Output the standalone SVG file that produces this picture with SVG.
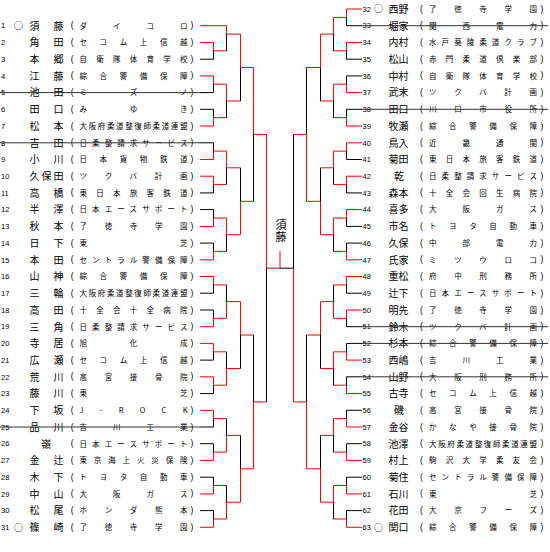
<svg xmlns="http://www.w3.org/2000/svg" width="550" height="552" viewBox="0 0 550 552">
<style>
text{font-family:"Noto Sans CJK JP","Noto Sans CJK SC",sans-serif;fill:#000}
.n{font-family:"Liberation Sans",sans-serif;font-size:7.5px}
.nm{font-size:10px}
.af{font-size:7.5px}
.pa{font-family:"Liberation Sans",sans-serif;font-size:8.5px}
.o{font-size:9px}
.st{stroke:#333;stroke-width:1}
.r{stroke:#f00;fill:none;stroke-width:1}
.b{stroke:#000;fill:none;stroke-width:1}
</style>
<rect width="550" height="552" fill="#fff"/>
<g id="connectors">
<path class="r" d="M200 25.7H226.5M200 42.4H213.5M200 75.9H213.5M200 126H213.5M200 159.5H213.5M200 176.2H213.5M200 226.4H213.5M200 259.8H213.5M200 276.5H213.5M200 326.7H213.5M200 343.4H213.5M200 376.8H213.5M200 410.3H213.5M200 460.4H213.5M200 493.9H213.5M200 527.3H213.5
M213.5 42.4V50.8M213.5 75.9V84.2M213.5 117.7V126M213.5 151.1V159.5M213.5 176.2V184.6M213.5 218V226.4M213.5 251.4V259.8M213.5 276.5V284.9M213.5 318.3V326.7M213.5 343.4V351.8M213.5 376.8V385.2M213.5 410.3V418.6M213.5 452.1V460.4M213.5 485.5V493.9M213.5 519V527.3
M213.5 50.8H226.5M213.5 84.2H226.5M213.5 117.7H226.5M213.5 151.1H226.5M213.5 184.6H226.5M213.5 218H226.5M213.5 251.4H226.5M213.5 284.9H226.5M213.5 318.3H226.5M213.5 351.8H226.5M213.5 385.2H226.5M213.5 418.6H226.5M213.5 452.1H226.5M213.5 485.5H226.5M213.5 519H226.5
M226.5 25.7V34.1M226.5 84.2V101M226.5 151.1V167.8M226.5 218V234.7M226.5 301.6V318.3M226.5 368.5V385.2M226.5 435.4V452.1M226.5 502.2V519
M226.5 34.1H240.5M226.5 101H240.5M226.5 167.8H240.5M226.5 234.7H240.5M226.5 301.6H240.5M226.5 368.5H240.5M226.5 435.4H240.5M226.5 502.2H240.5
M240.5 34.1V67.5M240.5 201.3V234.7M240.5 301.6V335M240.5 468.8V502.2
M240.5 67.5H253.5M240.5 201.3H253.5M240.5 335H253.5M240.5 468.8H253.5
M253.5 67.5V134.4M253.5 401.9V468.8M253.5 134.4H266.5M253.5 401.9H266.5
M266.5 134.4V268.2M266.5 268.2H280M280 251V268.2"/>
<path class="b" d="M200 59.2H213.5M200 92.6H213.5M200 109.3H213.5M200 142.8H213.5M200 192.9H213.5M200 209.6H213.5M200 243.1H213.5M200 293.2H213.5M200 310H213.5M200 360.1H213.5M200 393.6H213.5M200 427H213.5M200 443.7H213.5M200 477.2H213.5M200 510.6H213.5
M213.5 50.8V59.2M213.5 84.2V92.6M213.5 109.3V117.7M213.5 142.8V151.1M213.5 184.6V192.9M213.5 209.6V218M213.5 243.1V251.4M213.5 284.9V293.2M213.5 310V318.3M213.5 351.8V360.1M213.5 385.2V393.6M213.5 418.6V427M213.5 443.7V452.1M213.5 477.2V485.5M213.5 510.6V519
M226.5 34.1V50.8M226.5 101V117.7M226.5 167.8V184.6M226.5 234.7V251.4M226.5 284.9V301.6M226.5 351.8V368.5M226.5 418.6V435.4M226.5 485.5V502.2
M240.5 67.5V101M240.5 167.8V201.3M240.5 335V368.5M240.5 435.4V468.8
M253.5 134.4V201.3M253.5 335V401.9M266.5 268.2V401.9M280 268.2H293.5"/>
<path class="r" d="M346.5 9H362M346.5 42.4H362M346.5 92.6H362M346.5 126H362M346.5 142.8H362M346.5 176.2H362M346.5 209.6H362M346.5 259.8H362M346.5 276.5H362M346.5 310H362M346.5 360.1H362M346.5 393.6H362M346.5 427H362M346.5 460.4H362M346.5 493.9H362M346.5 527.3H362
M346.5 9V17.4M346.5 42.4V50.8M346.5 84.2V92.6M346.5 117.7V126M346.5 142.8V151.1M346.5 176.2V184.6M346.5 209.6V218M346.5 251.4V259.8M346.5 276.5V284.9M346.5 310V318.3M346.5 351.8V360.1M346.5 385.2V393.6M346.5 418.6V427M346.5 452.1V460.4M346.5 485.5V493.9M346.5 519V527.3
M333.5 17.4H346.5M333.5 50.8H346.5M333.5 84.2H346.5M333.5 117.7H346.5M333.5 151.1H346.5M333.5 184.6H346.5M333.5 218H346.5M333.5 251.4H346.5M333.5 284.9H346.5M333.5 318.3H346.5M333.5 351.8H346.5M333.5 385.2H346.5M333.5 418.6H346.5M333.5 452.1H346.5M333.5 485.5H346.5M333.5 519H346.5
M333.5 17.4V34.1M333.5 84.2V101M333.5 151.1V167.8M333.5 218V234.7M333.5 301.6V318.3M333.5 351.8V368.5M333.5 418.6V435.4M333.5 485.5V502.2
M320.5 34.1H333.5M320.5 101H333.5M320.5 167.8H333.5M320.5 234.7H333.5M320.5 301.6H333.5M320.5 368.5H333.5M320.5 435.4H333.5M320.5 502.2H333.5
M320.5 34.1V67.5M320.5 201.3V234.7M320.5 301.6V335M320.5 468.8V502.2
M306.5 67.5H320.5M306.5 201.3H320.5M306.5 335H320.5M306.5 468.8H320.5
M306.5 134.4V201.3M306.5 401.9V468.8M293.5 134.4H306.5M293.5 401.9H306.5
M293.5 268.2V401.9"/>
<path class="b" d="M346.5 25.7H362M346.5 59.2H362M346.5 75.9H362M346.5 109.3H362M346.5 159.5H362M346.5 192.9H362M346.5 226.4H362M346.5 243.1H362M346.5 293.2H362M346.5 326.7H362M346.5 343.4H362M346.5 376.8H362M346.5 410.3H362M346.5 443.7H362M346.5 477.2H362M346.5 510.6H362
M346.5 17.4V25.7M346.5 50.8V59.2M346.5 75.9V84.2M346.5 109.3V117.7M346.5 151.1V159.5M346.5 184.6V192.9M346.5 218V226.4M346.5 243.1V251.4M346.5 284.9V293.2M346.5 318.3V326.7M346.5 343.4V351.8M346.5 376.8V385.2M346.5 410.3V418.6M346.5 443.7V452.1M346.5 477.2V485.5M346.5 510.6V519
M333.5 34.1V50.8M333.5 101V117.7M333.5 167.8V184.6M333.5 234.7V251.4M333.5 284.9V301.6M333.5 368.5V385.2M333.5 435.4V452.1M333.5 502.2V519
M320.5 67.5V101M320.5 167.8V201.3M320.5 335V368.5M320.5 435.4V468.8
M306.5 67.5V134.4M306.5 335V401.9M293.5 134.4V268.2"/>
</g>
<g id="champion">
<text x="281" y="219" font-size="11" writing-mode="vertical-rl" letter-spacing="1.6">須藤</text>
</g>
<g id="p1" transform="translate(0,25.7)"><text class="n" x="1" y="2.7">1</text><text class="o" x="18.5" y="3.4" text-anchor="middle">○</text><text class="nm" x="29.5" y="3.8" textLength="34" lengthAdjust="spacing">須藤</text><text class="pa" x="70.8" y="2.5">(</text><text class="af" x="79.5" y="2.85" textLength="108" lengthAdjust="spacing">ダイコロ</text><text class="pa" x="190.5" y="2.5">)</text></g>
<g id="p2" transform="translate(0,42.4)"><text class="n" x="1" y="2.7">2</text><text class="nm" x="29.5" y="3.8" textLength="34" lengthAdjust="spacing">角田</text><text class="pa" x="70.8" y="2.5">(</text><text class="af" x="79.5" y="2.85" textLength="108" lengthAdjust="spacing">セコム上信越</text><text class="pa" x="190.5" y="2.5">)</text></g>
<g id="p3" transform="translate(0,59.2)"><text class="n" x="1" y="2.7">3</text><text class="nm" x="29.5" y="3.8" textLength="34" lengthAdjust="spacing">本郷</text><text class="pa" x="70.8" y="2.5">(</text><text class="af" x="79.5" y="2.85" textLength="108" lengthAdjust="spacing">自衛隊体育学校</text><text class="pa" x="190.5" y="2.5">)</text></g>
<g id="p4" transform="translate(0,75.9)"><text class="n" x="1" y="2.7">4</text><text class="nm" x="29.5" y="3.8" textLength="34" lengthAdjust="spacing">江藤</text><text class="pa" x="70.8" y="2.5">(</text><text class="af" x="79.5" y="2.85" textLength="108" lengthAdjust="spacing">綜合警備保障</text><text class="pa" x="190.5" y="2.5">)</text></g>
<g id="p5" transform="translate(0,92.6)"><text class="n" x="1" y="2.7">5</text><text class="nm" x="29.5" y="3.8" textLength="34" lengthAdjust="spacing">池田</text><text class="pa" x="70.8" y="2.5">(</text><text class="af" x="79.5" y="2.85" textLength="108" lengthAdjust="spacing">ミズノ</text><text class="pa" x="190.5" y="2.5">)</text><line class="st" x1="0" y1="0" x2="200" y2="0"/></g>
<g id="p6" transform="translate(0,109.3)"><text class="n" x="1" y="2.7">6</text><text class="nm" x="29.5" y="3.8" textLength="34" lengthAdjust="spacing">田口</text><text class="pa" x="70.8" y="2.5">(</text><text class="af" x="79.5" y="2.85" textLength="108" lengthAdjust="spacing">みゆき</text><text class="pa" x="190.5" y="2.5">)</text></g>
<g id="p7" transform="translate(0,126)"><text class="n" x="1" y="2.7">7</text><text class="nm" x="29.5" y="3.8" textLength="34" lengthAdjust="spacing">松本</text><text class="pa" x="70.8" y="2.5">(</text><text class="af" x="79.5" y="2.85" textLength="108" lengthAdjust="spacing">大阪府柔道整復師柔道連盟</text><text class="pa" x="190.5" y="2.5">)</text></g>
<g id="p8" transform="translate(0,142.8)"><text class="n" x="1" y="2.7">8</text><text class="nm" x="29.5" y="3.8" textLength="34" lengthAdjust="spacing">吉田</text><text class="pa" x="70.8" y="2.5">(</text><text class="af" x="79.5" y="2.85" textLength="108" lengthAdjust="spacing">日柔整請求サービス</text><text class="pa" x="190.5" y="2.5">)</text><line class="st" x1="0" y1="0" x2="200" y2="0"/></g>
<g id="p9" transform="translate(0,159.5)"><text class="n" x="1" y="2.7">9</text><text class="nm" x="29.5" y="3.8" textLength="34" lengthAdjust="spacing">小川</text><text class="pa" x="70.8" y="2.5">(</text><text class="af" x="79.5" y="2.85" textLength="108" lengthAdjust="spacing">日本貨物鉄道</text><text class="pa" x="190.5" y="2.5">)</text></g>
<g id="p10" transform="translate(0,176.2)"><text class="n" x="1" y="2.7">10</text><text class="nm" x="29.5" y="3.8" textLength="34" lengthAdjust="spacing">久保田</text><text class="pa" x="70.8" y="2.5">(</text><text class="af" x="79.5" y="2.85" textLength="108" lengthAdjust="spacing">ツクバ計画</text><text class="pa" x="190.5" y="2.5">)</text></g>
<g id="p11" transform="translate(0,192.9)"><text class="n" x="1" y="2.7">11</text><text class="nm" x="29.5" y="3.8" textLength="34" lengthAdjust="spacing">高橋</text><text class="pa" x="70.8" y="2.5">(</text><text class="af" x="79.5" y="2.85" textLength="108" lengthAdjust="spacing">東日本旅客鉄道</text><text class="pa" x="190.5" y="2.5">)</text></g>
<g id="p12" transform="translate(0,209.6)"><text class="n" x="1" y="2.7">12</text><text class="nm" x="29.5" y="3.8" textLength="34" lengthAdjust="spacing">半澤</text><text class="pa" x="70.8" y="2.5">(</text><text class="af" x="79.5" y="2.85" textLength="108" lengthAdjust="spacing">日本エースサポート</text><text class="pa" x="190.5" y="2.5">)</text></g>
<g id="p13" transform="translate(0,226.4)"><text class="n" x="1" y="2.7">13</text><text class="nm" x="29.5" y="3.8" textLength="34" lengthAdjust="spacing">秋本</text><text class="pa" x="70.8" y="2.5">(</text><text class="af" x="79.5" y="2.85" textLength="108" lengthAdjust="spacing">了徳寺学園</text><text class="pa" x="190.5" y="2.5">)</text></g>
<g id="p14" transform="translate(0,243.1)"><text class="n" x="1" y="2.7">14</text><text class="nm" x="29.5" y="3.8" textLength="34" lengthAdjust="spacing">日下</text><text class="pa" x="70.8" y="2.5">(</text><text class="af" x="79.5" y="2.85" textLength="108" lengthAdjust="spacing">東芝</text><text class="pa" x="190.5" y="2.5">)</text></g>
<g id="p15" transform="translate(0,259.8)"><text class="n" x="1" y="2.7">15</text><text class="nm" x="29.5" y="3.8" textLength="34" lengthAdjust="spacing">本田</text><text class="pa" x="70.8" y="2.5">(</text><text class="af" x="79.5" y="2.85" textLength="108" lengthAdjust="spacing">セントラル警備保障</text><text class="pa" x="190.5" y="2.5">)</text></g>
<g id="p16" transform="translate(0,276.5)"><text class="n" x="1" y="2.7">16</text><text class="nm" x="29.5" y="3.8" textLength="34" lengthAdjust="spacing">山神</text><text class="pa" x="70.8" y="2.5">(</text><text class="af" x="79.5" y="2.85" textLength="108" lengthAdjust="spacing">綜合警備保障</text><text class="pa" x="190.5" y="2.5">)</text></g>
<g id="p17" transform="translate(0,293.2)"><text class="n" x="1" y="2.7">17</text><text class="nm" x="29.5" y="3.8" textLength="34" lengthAdjust="spacing">三輪</text><text class="pa" x="70.8" y="2.5">(</text><text class="af" x="79.5" y="2.85" textLength="108" lengthAdjust="spacing">大阪府柔道整復師柔道連盟</text><text class="pa" x="190.5" y="2.5">)</text></g>
<g id="p18" transform="translate(0,310)"><text class="n" x="1" y="2.7">18</text><text class="nm" x="29.5" y="3.8" textLength="34" lengthAdjust="spacing">高田</text><text class="pa" x="70.8" y="2.5">(</text><text class="af" x="79.5" y="2.85" textLength="108" lengthAdjust="spacing">十全会十全病院</text><text class="pa" x="190.5" y="2.5">)</text></g>
<g id="p19" transform="translate(0,326.7)"><text class="n" x="1" y="2.7">19</text><text class="nm" x="29.5" y="3.8" textLength="34" lengthAdjust="spacing">三角</text><text class="pa" x="70.8" y="2.5">(</text><text class="af" x="79.5" y="2.85" textLength="108" lengthAdjust="spacing">日柔整請求サービス</text><text class="pa" x="190.5" y="2.5">)</text></g>
<g id="p20" transform="translate(0,343.4)"><text class="n" x="1" y="2.7">20</text><text class="nm" x="29.5" y="3.8" textLength="34" lengthAdjust="spacing">寺居</text><text class="pa" x="70.8" y="2.5">(</text><text class="af" x="79.5" y="2.85" textLength="108" lengthAdjust="spacing">旭化成</text><text class="pa" x="190.5" y="2.5">)</text></g>
<g id="p21" transform="translate(0,360.1)"><text class="n" x="1" y="2.7">21</text><text class="nm" x="29.5" y="3.8" textLength="34" lengthAdjust="spacing">広瀬</text><text class="pa" x="70.8" y="2.5">(</text><text class="af" x="79.5" y="2.85" textLength="108" lengthAdjust="spacing">セコム上信越</text><text class="pa" x="190.5" y="2.5">)</text></g>
<g id="p22" transform="translate(0,376.8)"><text class="n" x="1" y="2.7">22</text><text class="nm" x="29.5" y="3.8" textLength="34" lengthAdjust="spacing">荒川</text><text class="pa" x="70.8" y="2.5">(</text><text class="af" x="79.5" y="2.85" textLength="108" lengthAdjust="spacing">高宮接骨院</text><text class="pa" x="190.5" y="2.5">)</text></g>
<g id="p23" transform="translate(0,393.6)"><text class="n" x="1" y="2.7">23</text><text class="nm" x="29.5" y="3.8" textLength="34" lengthAdjust="spacing">藤川</text><text class="pa" x="70.8" y="2.5">(</text><text class="af" x="79.5" y="2.85" textLength="108" lengthAdjust="spacing">東芝</text><text class="pa" x="190.5" y="2.5">)</text></g>
<g id="p24" transform="translate(0,410.3)"><text class="n" x="1" y="2.7">24</text><text class="nm" x="29.5" y="3.8" textLength="34" lengthAdjust="spacing">下坂</text><text class="pa" x="70.8" y="2.5">(</text><text class="af" x="79.5" y="2.85" textLength="108" lengthAdjust="spacing">J-ROCK</text><text class="pa" x="190.5" y="2.5">)</text></g>
<g id="p25" transform="translate(0,427)"><text class="n" x="1" y="2.7">25</text><text class="nm" x="29.5" y="3.8" textLength="34" lengthAdjust="spacing">品川</text><text class="pa" x="70.8" y="2.5">(</text><text class="af" x="79.5" y="2.85" textLength="108" lengthAdjust="spacing">吉川工業</text><text class="pa" x="190.5" y="2.5">)</text><line class="st" x1="0" y1="0" x2="200" y2="0"/></g>
<g id="p26" transform="translate(0,443.7)"><text class="n" x="1" y="2.7">26</text><text class="nm" x="46" y="3.8" text-anchor="middle">嶺</text><text class="pa" x="70.8" y="2.5">(</text><text class="af" x="79.5" y="2.85" textLength="108" lengthAdjust="spacing">日本エースサポート</text><text class="pa" x="190.5" y="2.5">)</text></g>
<g id="p27" transform="translate(0,460.4)"><text class="n" x="1" y="2.7">27</text><text class="nm" x="29.5" y="3.8" textLength="34" lengthAdjust="spacing">金辻</text><text class="pa" x="70.8" y="2.5">(</text><text class="af" x="79.5" y="2.85" textLength="108" lengthAdjust="spacing">東京海上火災保険</text><text class="pa" x="190.5" y="2.5">)</text></g>
<g id="p28" transform="translate(0,477.2)"><text class="n" x="1" y="2.7">28</text><text class="nm" x="29.5" y="3.8" textLength="34" lengthAdjust="spacing">木下</text><text class="pa" x="70.8" y="2.5">(</text><text class="af" x="79.5" y="2.85" textLength="108" lengthAdjust="spacing">トヨタ自動車</text><text class="pa" x="190.5" y="2.5">)</text></g>
<g id="p29" transform="translate(0,493.9)"><text class="n" x="1" y="2.7">29</text><text class="nm" x="29.5" y="3.8" textLength="34" lengthAdjust="spacing">中山</text><text class="pa" x="70.8" y="2.5">(</text><text class="af" x="79.5" y="2.85" textLength="108" lengthAdjust="spacing">大阪ガス</text><text class="pa" x="190.5" y="2.5">)</text></g>
<g id="p30" transform="translate(0,510.6)"><text class="n" x="1" y="2.7">30</text><text class="nm" x="29.5" y="3.8" textLength="34" lengthAdjust="spacing">松尾</text><text class="pa" x="70.8" y="2.5">(</text><text class="af" x="79.5" y="2.85" textLength="108" lengthAdjust="spacing">ホンダ熊本</text><text class="pa" x="190.5" y="2.5">)</text></g>
<g id="p31" transform="translate(0,527.3)"><text class="n" x="1" y="2.7">31</text><text class="o" x="18.5" y="3.4" text-anchor="middle">○</text><text class="nm" x="29.5" y="3.8" textLength="34" lengthAdjust="spacing">篠崎</text><text class="pa" x="70.8" y="2.5">(</text><text class="af" x="79.5" y="2.85" textLength="108" lengthAdjust="spacing">了徳寺学園</text><text class="pa" x="190.5" y="2.5">)</text></g>
<g id="p32" transform="translate(0,9)"><text class="n" x="362.5" y="2.7">32</text><text class="o" x="378.5" y="3.4" text-anchor="middle">○</text><text class="nm" x="388.5" y="3.8">西野</text><text class="pa" x="420" y="2.5">(</text><text class="af" x="429" y="2.85" textLength="108" lengthAdjust="spacing">了徳寺学園</text><text class="pa" x="540.5" y="2.5">)</text></g>
<g id="p33" transform="translate(0,25.7)"><text class="n" x="362.5" y="2.7">33</text><text class="nm" x="388.5" y="3.8">堀家</text><text class="pa" x="420" y="2.5">(</text><text class="af" x="429" y="2.85" textLength="108" lengthAdjust="spacing">関西電力</text><text class="pa" x="540.5" y="2.5">)</text><line class="st" x1="362" y1="0" x2="548" y2="0"/></g>
<g id="p34" transform="translate(0,42.4)"><text class="n" x="362.5" y="2.7">34</text><text class="nm" x="388.5" y="3.8">内村</text><text class="pa" x="420" y="2.5">(</text><text class="af" x="429" y="2.85" textLength="108" lengthAdjust="spacing">水戸葵陵柔道クラブ</text><text class="pa" x="540.5" y="2.5">)</text></g>
<g id="p35" transform="translate(0,59.2)"><text class="n" x="362.5" y="2.7">35</text><text class="nm" x="388.5" y="3.8">松山</text><text class="pa" x="420" y="2.5">(</text><text class="af" x="429" y="2.85" textLength="108" lengthAdjust="spacing">赤門柔道倶楽部</text><text class="pa" x="540.5" y="2.5">)</text></g>
<g id="p36" transform="translate(0,75.9)"><text class="n" x="362.5" y="2.7">36</text><text class="nm" x="388.5" y="3.8">中村</text><text class="pa" x="420" y="2.5">(</text><text class="af" x="429" y="2.85" textLength="108" lengthAdjust="spacing">自衛隊体育学校</text><text class="pa" x="540.5" y="2.5">)</text></g>
<g id="p37" transform="translate(0,92.6)"><text class="n" x="362.5" y="2.7">37</text><text class="nm" x="388.5" y="3.8">武末</text><text class="pa" x="420" y="2.5">(</text><text class="af" x="429" y="2.85" textLength="108" lengthAdjust="spacing">ツクバ計画</text><text class="pa" x="540.5" y="2.5">)</text></g>
<g id="p38" transform="translate(0,109.3)"><text class="n" x="362.5" y="2.7">38</text><text class="nm" x="388.5" y="3.8">田口</text><text class="pa" x="420" y="2.5">(</text><text class="af" x="429" y="2.85" textLength="108" lengthAdjust="spacing">川口市役所</text><text class="pa" x="540.5" y="2.5">)</text><line class="st" x1="362" y1="0" x2="548" y2="0"/></g>
<g id="p39" transform="translate(0,126)"><text class="n" x="362.5" y="2.7">39</text><text class="nm" x="388.5" y="3.8">牧瀬</text><text class="pa" x="420" y="2.5">(</text><text class="af" x="429" y="2.85" textLength="108" lengthAdjust="spacing">綜合警備保障</text><text class="pa" x="540.5" y="2.5">)</text></g>
<g id="p40" transform="translate(0,142.8)"><text class="n" x="362.5" y="2.7">40</text><text class="nm" x="388.5" y="3.8">鳥入</text><text class="pa" x="420" y="2.5">(</text><text class="af" x="429" y="2.85" textLength="108" lengthAdjust="spacing">近畿通関</text><text class="pa" x="540.5" y="2.5">)</text></g>
<g id="p41" transform="translate(0,159.5)"><text class="n" x="362.5" y="2.7">41</text><text class="nm" x="388.5" y="3.8">菊田</text><text class="pa" x="420" y="2.5">(</text><text class="af" x="429" y="2.85" textLength="108" lengthAdjust="spacing">東日本旅客鉄道</text><text class="pa" x="540.5" y="2.5">)</text></g>
<g id="p42" transform="translate(0,176.2)"><text class="n" x="362.5" y="2.7">42</text><text class="nm" x="399" y="3.8" text-anchor="middle">乾</text><text class="pa" x="420" y="2.5">(</text><text class="af" x="429" y="2.85" textLength="108" lengthAdjust="spacing">日柔整請求サービス</text><text class="pa" x="540.5" y="2.5">)</text></g>
<g id="p43" transform="translate(0,192.9)"><text class="n" x="362.5" y="2.7">43</text><text class="nm" x="388.5" y="3.8">森本</text><text class="pa" x="420" y="2.5">(</text><text class="af" x="429" y="2.85" textLength="108" lengthAdjust="spacing">十全会回生病院</text><text class="pa" x="540.5" y="2.5">)</text></g>
<g id="p44" transform="translate(0,209.6)"><text class="n" x="362.5" y="2.7">44</text><text class="nm" x="388.5" y="3.8">喜多</text><text class="pa" x="420" y="2.5">(</text><text class="af" x="429" y="2.85" textLength="108" lengthAdjust="spacing">大阪ガス</text><text class="pa" x="540.5" y="2.5">)</text></g>
<g id="p45" transform="translate(0,226.4)"><text class="n" x="362.5" y="2.7">45</text><text class="nm" x="388.5" y="3.8">市名</text><text class="pa" x="420" y="2.5">(</text><text class="af" x="429" y="2.85" textLength="108" lengthAdjust="spacing">トヨタ自動車</text><text class="pa" x="540.5" y="2.5">)</text></g>
<g id="p46" transform="translate(0,243.1)"><text class="n" x="362.5" y="2.7">46</text><text class="nm" x="388.5" y="3.8">久保</text><text class="pa" x="420" y="2.5">(</text><text class="af" x="429" y="2.85" textLength="108" lengthAdjust="spacing">中部電力</text><text class="pa" x="540.5" y="2.5">)</text></g>
<g id="p47" transform="translate(0,259.8)"><text class="n" x="362.5" y="2.7">47</text><text class="nm" x="388.5" y="3.8">氏家</text><text class="pa" x="420" y="2.5">(</text><text class="af" x="429" y="2.85" textLength="108" lengthAdjust="spacing">ミツウロコ</text><text class="pa" x="540.5" y="2.5">)</text></g>
<g id="p48" transform="translate(0,276.5)"><text class="n" x="362.5" y="2.7">48</text><text class="nm" x="388.5" y="3.8">重松</text><text class="pa" x="420" y="2.5">(</text><text class="af" x="429" y="2.85" textLength="108" lengthAdjust="spacing">府中刑務所</text><text class="pa" x="540.5" y="2.5">)</text></g>
<g id="p49" transform="translate(0,293.2)"><text class="n" x="362.5" y="2.7">49</text><text class="nm" x="388.5" y="3.8">辻下</text><text class="pa" x="420" y="2.5">(</text><text class="af" x="429" y="2.85" textLength="108" lengthAdjust="spacing">日本エースサポート</text><text class="pa" x="540.5" y="2.5">)</text></g>
<g id="p50" transform="translate(0,310)"><text class="n" x="362.5" y="2.7">50</text><text class="nm" x="388.5" y="3.8">明先</text><text class="pa" x="420" y="2.5">(</text><text class="af" x="429" y="2.85" textLength="108" lengthAdjust="spacing">了徳寺学園</text><text class="pa" x="540.5" y="2.5">)</text></g>
<g id="p51" transform="translate(0,326.7)"><text class="n" x="362.5" y="2.7">51</text><text class="nm" x="388.5" y="3.8">鈴木</text><text class="pa" x="420" y="2.5">(</text><text class="af" x="429" y="2.85" textLength="108" lengthAdjust="spacing">ツクバ計画</text><text class="pa" x="540.5" y="2.5">)</text><line class="st" x1="362" y1="0" x2="548" y2="0"/></g>
<g id="p52" transform="translate(0,343.4)"><text class="n" x="362.5" y="2.7">52</text><text class="nm" x="388.5" y="3.8">杉本</text><text class="pa" x="420" y="2.5">(</text><text class="af" x="429" y="2.85" textLength="108" lengthAdjust="spacing">綜合警備保障</text><text class="pa" x="540.5" y="2.5">)</text><line class="st" x1="362" y1="0" x2="548" y2="0"/></g>
<g id="p53" transform="translate(0,360.1)"><text class="n" x="362.5" y="2.7">53</text><text class="nm" x="388.5" y="3.8">西嶋</text><text class="pa" x="420" y="2.5">(</text><text class="af" x="429" y="2.85" textLength="108" lengthAdjust="spacing">吉川工業</text><text class="pa" x="540.5" y="2.5">)</text></g>
<g id="p54" transform="translate(0,376.8)"><text class="n" x="362.5" y="2.7">54</text><text class="nm" x="388.5" y="3.8">山野</text><text class="pa" x="420" y="2.5">(</text><text class="af" x="429" y="2.85" textLength="108" lengthAdjust="spacing">大阪刑務所</text><text class="pa" x="540.5" y="2.5">)</text><line class="st" x1="362" y1="0" x2="548" y2="0"/></g>
<g id="p55" transform="translate(0,393.6)"><text class="n" x="362.5" y="2.7">55</text><text class="nm" x="388.5" y="3.8">古寺</text><text class="pa" x="420" y="2.5">(</text><text class="af" x="429" y="2.85" textLength="108" lengthAdjust="spacing">セコム上信越</text><text class="pa" x="540.5" y="2.5">)</text></g>
<g id="p56" transform="translate(0,410.3)"><text class="n" x="362.5" y="2.7">56</text><text class="nm" x="399" y="3.8" text-anchor="middle">磯</text><text class="pa" x="420" y="2.5">(</text><text class="af" x="429" y="2.85" textLength="108" lengthAdjust="spacing">高宮接骨院</text><text class="pa" x="540.5" y="2.5">)</text></g>
<g id="p57" transform="translate(0,427)"><text class="n" x="362.5" y="2.7">57</text><text class="nm" x="388.5" y="3.8">金谷</text><text class="pa" x="420" y="2.5">(</text><text class="af" x="429" y="2.85" textLength="108" lengthAdjust="spacing">かなや接骨院</text><text class="pa" x="540.5" y="2.5">)</text></g>
<g id="p58" transform="translate(0,443.7)"><text class="n" x="362.5" y="2.7">58</text><text class="nm" x="388.5" y="3.8">池澤</text><text class="pa" x="420" y="2.5">(</text><text class="af" x="429" y="2.85" textLength="108" lengthAdjust="spacing">大阪府柔道整復師柔道連盟</text><text class="pa" x="540.5" y="2.5">)</text></g>
<g id="p59" transform="translate(0,460.4)"><text class="n" x="362.5" y="2.7">59</text><text class="nm" x="388.5" y="3.8">村上</text><text class="pa" x="420" y="2.5">(</text><text class="af" x="429" y="2.85" textLength="108" lengthAdjust="spacing">駒沢大学柔友会</text><text class="pa" x="540.5" y="2.5">)</text></g>
<g id="p60" transform="translate(0,477.2)"><text class="n" x="362.5" y="2.7">60</text><text class="nm" x="388.5" y="3.8">菊住</text><text class="pa" x="420" y="2.5">(</text><text class="af" x="429" y="2.85" textLength="108" lengthAdjust="spacing">セントラル警備保障</text><text class="pa" x="540.5" y="2.5">)</text></g>
<g id="p61" transform="translate(0,493.9)"><text class="n" x="362.5" y="2.7">61</text><text class="nm" x="388.5" y="3.8">石川</text><text class="pa" x="420" y="2.5">(</text><text class="af" x="429" y="2.85" textLength="108" lengthAdjust="spacing">東芝</text><text class="pa" x="540.5" y="2.5">)</text></g>
<g id="p62" transform="translate(0,510.6)"><text class="n" x="362.5" y="2.7">62</text><text class="nm" x="388.5" y="3.8">花田</text><text class="pa" x="420" y="2.5">(</text><text class="af" x="429" y="2.85" textLength="108" lengthAdjust="spacing">大京フーズ</text><text class="pa" x="540.5" y="2.5">)</text></g>
<g id="p63" transform="translate(0,527.3)"><text class="n" x="362.5" y="2.7">63</text><text class="o" x="378.5" y="3.4" text-anchor="middle">○</text><text class="nm" x="388.5" y="3.8">関口</text><text class="pa" x="420" y="2.5">(</text><text class="af" x="429" y="2.85" textLength="108" lengthAdjust="spacing">綜合警備保障</text><text class="pa" x="540.5" y="2.5">)</text></g>
</svg>
